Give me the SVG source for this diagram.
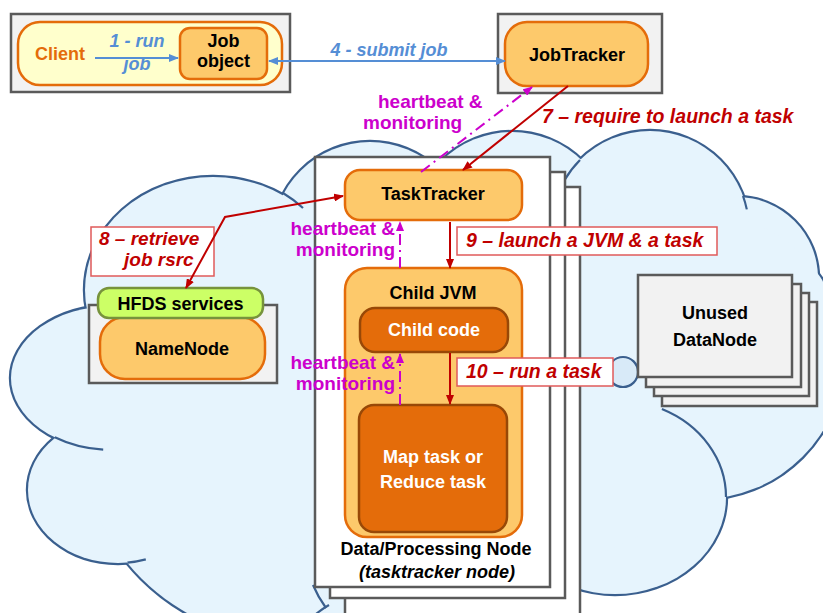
<svg xmlns="http://www.w3.org/2000/svg" xmlns:xlink="http://www.w3.org/1999/xlink" width="823" height="613" viewBox="0 0 823 613">
  <style>
    text { font-family: "Liberation Sans", Arial, sans-serif; font-weight: bold; font-size: 18px; text-anchor: middle; }
    .gray { fill: #f2f2f2; stroke: #5a5a5a; stroke-width: 2.5; }
    .orng { fill: #fdc96b; stroke: #e46c0a; stroke-width: 2.5; }
    .dark { fill: #e46c0a; stroke: #984807; stroke-width: 2.5; }
    .sheet { fill: #ffffff; stroke: #5a5a5a; stroke-width: 2.5; }
    .tag { fill: #ffffff; stroke: #e05a5a; stroke-width: 1.5; }
    .white { fill: #ffffff; }
    .blue { fill: #558ed5; font-style: italic; }
    .red { fill: #c00000; font-style: italic; font-size: 19.5px; }
    .red2 { fill: #c00000; font-style: italic; font-size: 19px; }
    .mag { fill: #cc00cc; font-size: 19px; }
    .l { text-anchor: start; }
    .r { text-anchor: end; }
    .lineBlue { stroke: #558ed5; stroke-width: 2; fill: none; }
    .lineRed { stroke: #c00000; stroke-width: 2; fill: none; }
    .lineMag { stroke: #cc00cc; stroke-width: 2; fill: none; stroke-dasharray: 11 5 2 5; }
    .seam { fill: none; stroke: #3a5f8e; stroke-width: 2.2; }
  </style>
  <defs>
    <marker id="ahBlue" viewBox="0 0 10 8" refX="9" refY="4" markerWidth="10" markerHeight="8" markerUnits="userSpaceOnUse" orient="auto-start-reverse">
      <path d="M0,0 L10,4 L0,8 z" fill="#558ed5"/>
    </marker>
    <marker id="ahRed" viewBox="0 0 10 8" refX="9" refY="4" markerWidth="10" markerHeight="8" markerUnits="userSpaceOnUse" orient="auto-start-reverse">
      <path d="M0,0 L10,4 L0,8 z" fill="#c00000"/>
    </marker>
    <marker id="ahMag" viewBox="0 0 10 8" refX="9" refY="4" markerWidth="10" markerHeight="8" markerUnits="userSpaceOnUse" orient="auto-start-reverse">
      <path d="M0,0 L10,4 L0,8 z" fill="#cc00cc"/>
    </marker>
    <!-- cloud lobes: stroked once wide, then filled on top to leave only the outer rim -->
    <g id="lobes">
      <ellipse cx="213" cy="290" rx="128" ry="113"/>
      <ellipse cx="112" cy="378" rx="101" ry="72"/>
      <ellipse cx="118" cy="490" rx="90" ry="73"/>
      <circle cx="290" cy="430" r="210"/>
      <circle cx="370" cy="240" r="98"/>
      <circle cx="512" cy="232" r="100"/>
      <circle cx="650" cy="230" r="99"/>
      <circle cx="737" cy="278" r="81"/>
      <circle cx="701" cy="356" r="143"/>
      <ellipse cx="615" cy="497" rx="111" ry="97"/>
    </g>
  </defs>

  <!-- cluster cloud -->
  <g id="cloud">
    <use xlink:href="#lobes" fill="none" stroke="#3a5f8e" stroke-width="4.4"/>
    <use xlink:href="#lobes" fill="#e6f4fd"/>
    <ellipse cx="450" cy="380" rx="300" ry="200" fill="#e6f4fd"/>
    <path class="seam" d="M283,193 A128,113 0 0 1 303,208"/>
    <path class="seam" d="M54.8,437.3 A101,72 0 0 0 103.2,449.7"/>
    <path class="seam" d="M127.4,562.6 A90,73 0 0 0 145.8,559.4"/>
    <path class="seam" d="M580,160 A99,99 0 0 0 564.3,180.5"/>
    <path class="seam" d="M743,196 A99,99 0 0 1 746.8,209.4"/>
    <path class="seam" d="M726,497 A111,97 0 0 0 661.9,409.1"/>
    <path class="seam" d="M313,585 Q318,597 326,608"/>
    <path class="seam" d="M316,614 Q322,609 329,605"/>
    <circle cx="623" cy="372" r="15" fill="#d8eaf8" stroke="#3a5f8e" stroke-width="2.2"/>
  </g>

  <!-- client machine -->
  <g id="client">
    <rect class="gray" x="11" y="14" width="279" height="78"/>
    <rect x="18" y="22" width="264" height="63" rx="22" fill="#ffffcc" stroke="#e46c0a" stroke-width="2.5"/>
    <text x="60" y="60" fill="#e46c0a">Client</text>
  </g>
  <g id="job-object">
    <rect class="orng" x="180" y="28" width="87" height="51" rx="10"/>
    <text x="223.5" y="47" font-size="17.5">Job</text>
    <text x="223.5" y="67" font-size="17.5">object</text>
  </g>

  <!-- job tracker -->
  <g id="jobtracker">
    <rect class="gray" x="498" y="14" width="164" height="79"/>
    <rect class="orng" x="505" y="22" width="143" height="64" rx="22"/>
    <text x="577" y="61">JobTracker</text>
  </g>

  <!-- name node with HDFS services -->
  <g id="namenode">
    <rect class="gray" x="89" y="305" width="188" height="78"/>
    <rect class="orng" x="100" y="317" width="165" height="62" rx="25"/>
    <text x="182" y="355">NameNode</text>
  </g>
  <g id="hdfs-services">
    <rect x="98" y="288" width="165" height="30" rx="11" fill="#ccff66" stroke="#77933c" stroke-width="2.5"/>
    <text x="180.5" y="310">HFDS services</text>
  </g>

  <!-- data / processing node (stacked sheets) -->
  <g id="data-node">
    <rect class="sheet" x="345" y="187" width="235" height="440"/>
    <rect class="sheet" x="330" y="172" width="235" height="426"/>
    <rect class="sheet" x="315" y="157" width="235" height="430"/>
    <text x="436" y="555" font-size="19">Data/Processing Node</text>
    <text x="437" y="578" font-style="italic" font-size="19">(tasktracker node)</text>
  </g>
  <g id="tasktracker">
    <rect class="orng" x="345" y="170" width="177" height="50" rx="15"/>
    <text x="433" y="200">TaskTracker</text>
  </g>
  <g id="child-jvm">
    <rect class="orng" x="345" y="268" width="177" height="269" rx="22"/>
    <text x="433" y="299">Child JVM</text>
  </g>
  <g id="child-code">
    <rect class="dark" x="360" y="308" width="148" height="44" rx="15"/>
    <text class="white" x="434" y="336">Child code</text>
  </g>
  <g id="map-reduce-task">
    <rect class="dark" x="359" y="405" width="148" height="127" rx="15"/>
    <text class="white" x="433" y="463" font-size="19">Map task or</text>
    <text class="white" x="433" y="488" font-size="19">Reduce task</text>
  </g>

  <!-- idle data nodes -->
  <g id="unused-datanode">
    <rect class="gray" x="662" y="302" width="155" height="104"/>
    <rect class="gray" x="654" y="293" width="155" height="103"/>
    <rect class="gray" x="646" y="284" width="155" height="103"/>
    <rect class="gray" x="638" y="275" width="154" height="102"/>
    <text x="715" y="319">Unused</text>
    <text x="715" y="346" font-size="19">DataNode</text>
  </g>

  <!-- step labels -->
  <g id="labels">
    <text class="blue" x="137" y="47">1 - run</text>
    <text class="blue" x="137" y="70">job</text>
    <text class="blue" x="389" y="56">4 - submit job</text>
    <text class="red l" x="542" y="123">7 – require to launch a task</text>
    <text class="mag l" x="378" y="108">heartbeat &amp;</text>
    <text class="mag l" x="363" y="129">monitoring</text>
    <rect class="tag" x="91" y="227" width="123" height="49"/>
    <text class="red2 l" x="99" y="245">8 – retrieve</text>
    <text class="red2 l" x="124" y="266">job rsrc</text>
    <text class="mag r" x="395" y="235">heartbeat &amp;</text>
    <text class="mag r" x="395" y="256">monitoring</text>
    <rect class="tag" x="457" y="227" width="260" height="28"/>
    <text class="red l" x="466" y="247">9 – launch a JVM &amp; a task</text>
    <text class="mag r" x="395" y="369">heartbeat &amp;</text>
    <text class="mag r" x="395" y="390">monitoring</text>
    <rect class="tag" x="457" y="358" width="156" height="28"/>
    <text class="red l" x="466" y="378">10 – run a task</text>
  </g>

  <!-- connectors -->
  <g id="connectors">
    <path class="lineBlue" d="M95,58 L178,58" marker-end="url(#ahBlue)"/>
    <path class="lineBlue" d="M269,61 L505,61" marker-start="url(#ahBlue)" marker-end="url(#ahBlue)"/>
    <path class="lineMag" d="M421,172 L532,87" marker-end="url(#ahMag)"/>
    <path class="lineRed" d="M568,86 L463,170" marker-end="url(#ahRed)"/>
    <path class="lineRed" d="M343,196 L225,217 L186,288" marker-start="url(#ahRed)" marker-end="url(#ahRed)"/>
    <path class="lineRed" d="M450,222 L450,268" marker-end="url(#ahRed)"/>
    <path class="lineMag" d="M400,268 L400,222" marker-end="url(#ahMag)"/>
    <path class="lineRed" d="M450,353 L450,404" marker-end="url(#ahRed)"/>
    <path class="lineMag" d="M400,405 L400,354" marker-end="url(#ahMag)"/>
  </g>
</svg>
